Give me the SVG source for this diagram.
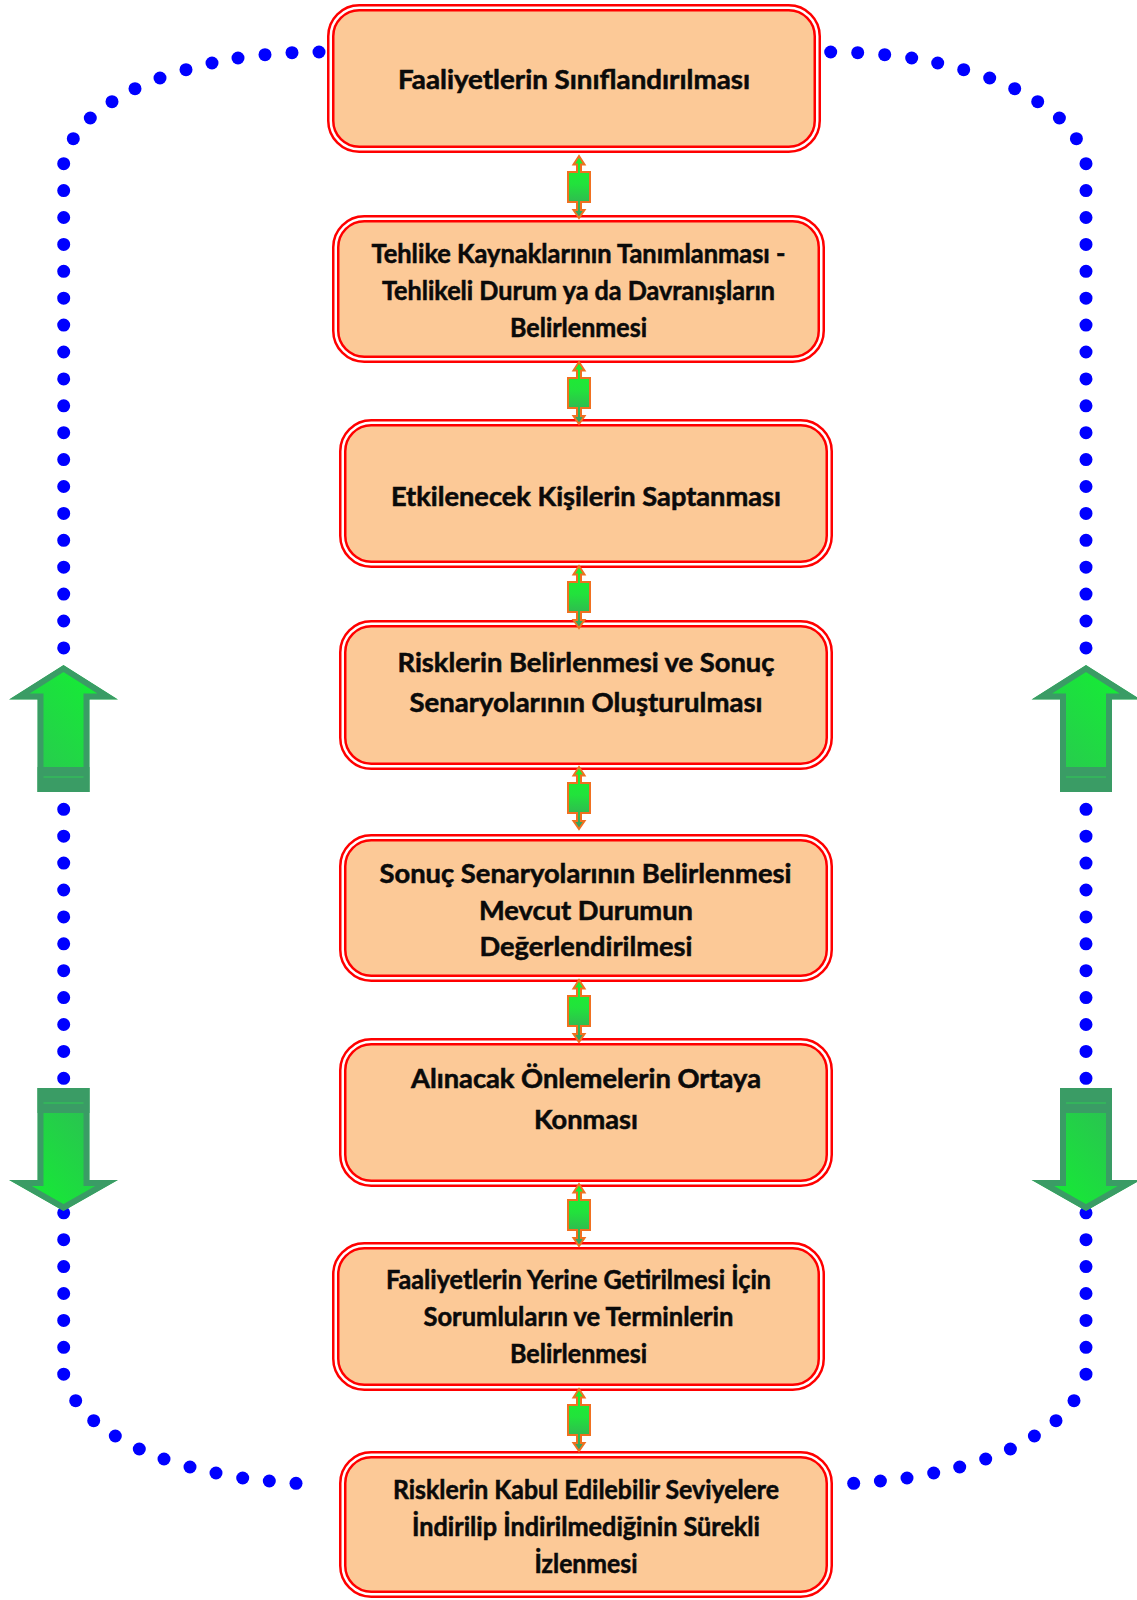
<svg xmlns="http://www.w3.org/2000/svg" xmlns:xlink="http://www.w3.org/1999/xlink" width="1137" height="1600" viewBox="0 0 1137 1600">
<style>
  .outer { fill: #ffffff; stroke: #ff0000; stroke-width: 2.5; }
  .inner { fill: #fcc997; stroke: #ff0000; stroke-width: 2.5; }
  .lbl { font-family: Lato, "Open Sans", "Liberation Sans", sans-serif; font-weight: 700; font-size: 27px; fill: #0a0a0a; stroke: #0a0a0a; stroke-width: 0.55; text-anchor: middle; }
  .dots { fill: none; stroke: #0000ff; stroke-width: 13; stroke-linecap: round; stroke-dasharray: 0 26.9; }
  .dot { fill: #0000ff; }
  .conn { fill: url(#gConn); stroke: #f07020; stroke-width: 2; stroke-linejoin: miter; }
  .bigUp { fill: url(#gUp); stroke: #3a9c65; stroke-width: 12; }
  .bigDown { fill: url(#gDown); stroke: #3a9c65; stroke-width: 12; }
  .band { fill: #3a9c65; }
  .stripe { fill: #34b45c; }
</style>
<defs>
  <linearGradient id="gConn" x1="0" y1="0" x2="0" y2="1">
    <stop offset="0" stop-color="#18f42c"/>
    <stop offset="0.45" stop-color="#22e23c"/>
    <stop offset="1" stop-color="#3a9a62"/>
  </linearGradient>
  <linearGradient id="gUp" x1="0" y1="1" x2="1" y2="0">
    <stop offset="0" stop-color="#2fbf58"/>
    <stop offset="1" stop-color="#10f52e"/>
  </linearGradient>
  <linearGradient id="gDown" x1="0" y1="1" x2="1" y2="0">
    <stop offset="0" stop-color="#10f52e"/>
    <stop offset="1" stop-color="#32b35c"/>
  </linearGradient>
  <path id="dbl" d="M579,0 L584.5,8.5 L581,8.5 L581,16 L590,16 L590,46 L581,46 L581,54 L584.5,54 L579,62 L573.5,54 L577,54 L577,46 L568,46 L568,16 L577,16 L577,8.5 L573.5,8.5 Z"/>
  <polygon id="upShape" points="0,0 54.5,34.5 26,34.5 26,127 -26,127 -26,34.5 -54.5,34.5"/>
  <polygon id="downShape" points="-26,0 26,0 26,92 54.5,92 0,123 -54.5,92 -26,92"/>
  <clipPath id="clipUp"><use xlink:href="#upShape"/></clipPath>
  <clipPath id="clipDown"><use xlink:href="#downShape"/></clipPath>
</defs>

<g id="loop">
  <path class="dots" d="M63.7,163.7 L63.7,1376.5"/>
  <path class="dots" d="M1086,163.7 L1086,1376.5"/>
  <g class="dot">
    <circle cx="319" cy="52" r="6.5"/><circle cx="292" cy="52.7" r="6.5"/><circle cx="265" cy="54.7" r="6.5"/>
    <circle cx="238" cy="58" r="6.5"/><circle cx="212" cy="63" r="6.5"/><circle cx="186" cy="69.7" r="6.5"/>
    <circle cx="160" cy="78" r="6.5"/><circle cx="135" cy="88.7" r="6.5"/><circle cx="112" cy="101.7" r="6.5"/>
    <circle cx="90.3" cy="118" r="6.5"/><circle cx="73.3" cy="138.7" r="6.5"/>
    <circle cx="75.7" cy="1400.7" r="6.5"/><circle cx="93.7" cy="1420.7" r="6.5"/><circle cx="115.3" cy="1436" r="6.5"/>
    <circle cx="139.3" cy="1449" r="6.5"/><circle cx="164" cy="1459" r="6.5"/><circle cx="190" cy="1467" r="6.5"/>
    <circle cx="216" cy="1473" r="6.5"/><circle cx="242.7" cy="1478" r="6.5"/><circle cx="269.3" cy="1481" r="6.5"/>
    <circle cx="296" cy="1483.3" r="6.5"/>
    <circle cx="830.7" cy="52" r="6.5"/><circle cx="857.7" cy="52.7" r="6.5"/><circle cx="884.7" cy="54.7" r="6.5"/>
    <circle cx="911.7" cy="58" r="6.5"/><circle cx="937.7" cy="63" r="6.5"/><circle cx="963.7" cy="69.7" r="6.5"/>
    <circle cx="989.7" cy="78" r="6.5"/><circle cx="1014.7" cy="88.7" r="6.5"/><circle cx="1037.7" cy="101.7" r="6.5"/>
    <circle cx="1059.4" cy="118" r="6.5"/><circle cx="1076.4" cy="138.7" r="6.5"/>
    <circle cx="1074" cy="1400.7" r="6.5"/><circle cx="1056" cy="1420.7" r="6.5"/><circle cx="1034.4" cy="1436" r="6.5"/>
    <circle cx="1010.4" cy="1449" r="6.5"/><circle cx="985.7" cy="1459" r="6.5"/><circle cx="959.7" cy="1467" r="6.5"/>
    <circle cx="933.7" cy="1473" r="6.5"/><circle cx="907" cy="1478" r="6.5"/><circle cx="880.4" cy="1481" r="6.5"/>
    <circle cx="853.7" cy="1483.3" r="6.5"/>
  </g>
</g>

<g id="bigArrows">
  <g id="arrowUpLeft" transform="translate(63.5,665)">
    <use xlink:href="#upShape" class="bigUp" clip-path="url(#clipUp)"/>
    <rect class="band" x="-26" y="102" width="52" height="25"/>
    <rect class="stripe" x="-20" y="111" width="40" height="2"/>
  </g>
  <g id="arrowUpRight" transform="translate(1086,665)">
    <use xlink:href="#upShape" class="bigUp" clip-path="url(#clipUp)"/>
    <rect class="band" x="-26" y="102" width="52" height="25"/>
    <rect class="stripe" x="-20" y="111" width="40" height="2"/>
  </g>
  <g id="arrowDownLeft" transform="translate(63.5,1088)">
    <use xlink:href="#downShape" class="bigDown" clip-path="url(#clipDown)"/>
    <rect class="band" x="-26" y="0" width="52" height="25"/>
    <rect class="stripe" x="-20" y="14" width="40" height="2"/>
  </g>
  <g id="arrowDownRight" transform="translate(1086,1088)">
    <use xlink:href="#downShape" class="bigDown" clip-path="url(#clipDown)"/>
    <rect class="band" x="-26" y="0" width="52" height="25"/>
    <rect class="stripe" x="-20" y="14" width="40" height="2"/>
  </g>
</g>

<g id="node1">
  <rect class="outer" x="328.25" y="5.25" width="491.5" height="146.5" rx="31"/>
  <rect class="inner" x="333.25" y="10.25" width="481.5" height="136.5" rx="26"/>
  <text class="lbl" x="574" y="89" textLength="352" lengthAdjust="spacingAndGlyphs">Faaliyetlerin Sınıflandırılması</text>
</g>
<g id="node2">
  <rect class="outer" x="333.25" y="216.25" width="490.5" height="145.5" rx="31"/>
  <rect class="inner" x="338.25" y="221.25" width="480.5" height="135.5" rx="26"/>
  <text class="lbl" x="578.5" y="263" textLength="414" lengthAdjust="spacingAndGlyphs">Tehlike Kaynaklarının Tanımlanması -</text>
  <text class="lbl" x="578.5" y="300" textLength="393" lengthAdjust="spacingAndGlyphs">Tehlikeli Durum ya da Davranışların</text>
  <text class="lbl" x="578.5" y="337" textLength="137" lengthAdjust="spacingAndGlyphs">Belirlenmesi</text>
</g>
<g id="node3">
  <rect class="outer" x="340.25" y="420.25" width="491.5" height="146.5" rx="31"/>
  <rect class="inner" x="345.25" y="425.25" width="481.5" height="136.5" rx="26"/>
  <text class="lbl" x="586" y="506" textLength="390" lengthAdjust="spacingAndGlyphs">Etkilenecek Kişilerin Saptanması</text>
</g>
<g id="node4">
  <rect class="outer" x="340.25" y="621.25" width="491.5" height="147.5" rx="31"/>
  <rect class="inner" x="345.25" y="626.25" width="481.5" height="137.5" rx="26"/>
  <text class="lbl" x="586" y="672" textLength="377" lengthAdjust="spacingAndGlyphs">Risklerin Belirlenmesi ve Sonuç</text>
  <text class="lbl" x="586" y="712" textLength="353" lengthAdjust="spacingAndGlyphs">Senaryolarının Oluşturulması</text>
</g>
<g id="node5">
  <rect class="outer" x="340.25" y="835.25" width="491.5" height="145.5" rx="31"/>
  <rect class="inner" x="345.25" y="840.25" width="481.5" height="135.5" rx="26"/>
  <text class="lbl" x="585.5" y="883" textLength="412" lengthAdjust="spacingAndGlyphs">Sonuç Senaryolarının Belirlenmesi</text>
  <text class="lbl" x="586" y="920" textLength="214" lengthAdjust="spacingAndGlyphs">Mevcut Durumun</text>
  <text class="lbl" x="586" y="956" textLength="213" lengthAdjust="spacingAndGlyphs">Değerlendirilmesi</text>
</g>
<g id="node6">
  <rect class="outer" x="340.25" y="1039.25" width="491.5" height="146.5" rx="31"/>
  <rect class="inner" x="345.25" y="1044.25" width="481.5" height="136.5" rx="26"/>
  <text class="lbl" x="586" y="1088" textLength="350" lengthAdjust="spacingAndGlyphs">Alınacak Önlemelerin Ortaya</text>
  <text class="lbl" x="586" y="1129" textLength="104" lengthAdjust="spacingAndGlyphs">Konması</text>
</g>
<g id="node7">
  <rect class="outer" x="333.25" y="1243.25" width="490.5" height="146.5" rx="31"/>
  <rect class="inner" x="338.25" y="1248.25" width="480.5" height="136.5" rx="26"/>
  <text class="lbl" x="578.5" y="1289" textLength="385" lengthAdjust="spacingAndGlyphs">Faaliyetlerin Yerine Getirilmesi İçin</text>
  <text class="lbl" x="578.5" y="1326" textLength="310" lengthAdjust="spacingAndGlyphs">Sorumluların ve Terminlerin</text>
  <text class="lbl" x="578.5" y="1363" textLength="137" lengthAdjust="spacingAndGlyphs">Belirlenmesi</text>
</g>
<g id="node8">
  <rect class="outer" x="340.25" y="1452.25" width="491.5" height="144.5" rx="31"/>
  <rect class="inner" x="345.25" y="1457.25" width="481.5" height="134.5" rx="26"/>
  <text class="lbl" x="586" y="1499" textLength="386" lengthAdjust="spacingAndGlyphs">Risklerin Kabul Edilebilir Seviyelere</text>
  <text class="lbl" x="586" y="1536" textLength="348" lengthAdjust="spacingAndGlyphs">İndirilip İndirilmediğinin Sürekli</text>
  <text class="lbl" x="586" y="1573" textLength="103" lengthAdjust="spacingAndGlyphs">İzlenmesi</text>
</g>

<g id="connectors">
  <use xlink:href="#dbl" class="conn" y="156"/>
  <use xlink:href="#dbl" class="conn" y="362"/>
  <use xlink:href="#dbl" class="conn" y="566"/>
  <use xlink:href="#dbl" class="conn" y="767"/>
  <use xlink:href="#dbl" class="conn" y="980"/>
  <use xlink:href="#dbl" class="conn" y="1184"/>
  <use xlink:href="#dbl" class="conn" y="1389"/>
</g>
</svg>
